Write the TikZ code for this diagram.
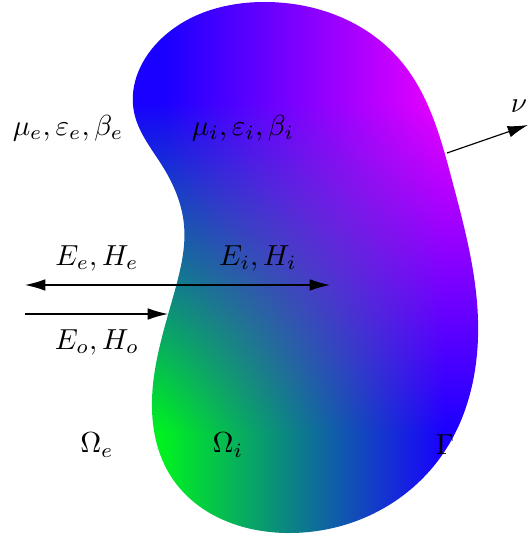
\documentclass[tikz,border=0pt]{standalone}
\usepackage{amsmath,amssymb}
\usepackage{tikz}
\usetikzlibrary{arrows.meta,positioning,hobby}
% green (bottom left), blue (top left, bottom right), magenta (top right)
\pgfdeclarefunctionalshading{kidney}{\pgfpoint{-50bp}{-50bp}}{\pgfpoint{50bp}{50bp}}{}{
  0.032 mul 0.5 add dup 0 lt {pop 0} if dup 1 gt {pop 1} if
  exch 0.025 mul 0.5 add dup 0 lt {pop 0} if dup 1 gt {pop 1} if exch
  2 copy 1 exch sub exch 1 exch sub mul
  3 1 roll mul
  2 copy 0.83 mul exch 0.1 mul sub 0.1 add
  3 1 roll pop
  dup 0.94 mul exch 0.87 mul 1 exch sub
}

\begin{document}
\begin{tikzpicture}[x=0.345pt,y=-0.345pt,>={Latex[length=7pt,width=4pt]},every node/.style={inner sep=0pt}]
\useasboundingbox (0,0) rectangle (528,539);
% the domain Omega_i
\shade[shading=kidney,use Hobby shortcut,closed=true]
  (265,2) .. (400,60) .. (452,180) .. (478,320) .. (440,458) .. (287,533)
  .. (172,478) .. (152,400) .. (175,290) .. (184,225) .. (163,167)
  .. (134,112) .. (162,38);
% labels
\node (pe) at (68,128) {$\mu_e,\varepsilon_e,\beta_e$};
\node (pi) at (243,128) {$\mu_i,\varepsilon_i,\beta_i$};
\node (ee) at (97,258) {$E_e,H_e$};
\node (ei) at (258,258) {$E_i,H_i$};
\node (eo) at (97,342) {$E_o,H_o$};
\node (oe) at (97,445) {$\Omega_e$};
\node (oi) at (228,445) {$\Omega_i$};
\node (gam) at (445,445) {$\Gamma$};
\node (nu) at (519,106) {$\nu$};
% waves
\coordinate (split) at (155,285);
\coordinate (refl) at (25,285);
\coordinate (trans) at (330,285);
\coordinate (inc) at (25,314);
\coordinate (hit) at (168,314);
\draw[->] (split)--(refl);
\draw[->] (split)--(trans);
\draw[->] (inc)--(hit);
% normal
\coordinate (bd) at (447,153);
\coordinate (nend) at (528,125);
\draw[->] (bd)--(nend);
\end{tikzpicture}
\end{document}
